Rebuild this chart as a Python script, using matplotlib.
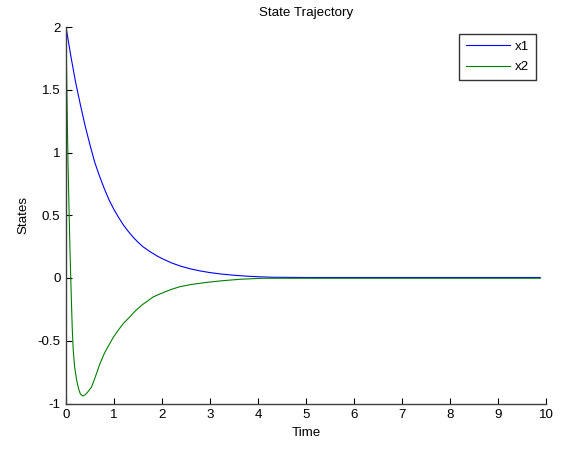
import matplotlib
matplotlib.use("Agg")
import matplotlib.pyplot as plt

plt.rcParams['font.family'] = ['Liberation Sans', 'DejaVu Sans']

# Data
t_x1 = [0.0, 0.1, 0.2, 0.3, 0.4, 0.5, 0.6, 0.7, 0.8, 0.9, 1.0, 1.1, 1.2, 1.3,
        1.4, 1.5, 1.6, 1.75, 1.9, 2.0, 2.2, 2.4, 2.6, 2.8, 3.0, 3.25, 3.5, 3.75,
        4.0, 4.3, 5.0, 6.0, 7.0, 8.0, 9.0, 9.88]
x1 = [2.0, 1.77, 1.56, 1.38, 1.21, 1.06, 0.92, 0.81, 0.71, 0.62, 0.545, 0.48,
      0.42, 0.37, 0.325, 0.285, 0.25, 0.21, 0.175, 0.155, 0.12, 0.093, 0.072,
      0.056, 0.043, 0.031, 0.022, 0.015, 0.01, 0.006, 0.004, 0.004, 0.004,
      0.004, 0.004, 0.004]

t_x2 = [0.0, 0.02, 0.04, 0.06, 0.083, 0.11, 0.13, 0.15, 0.18, 0.22, 0.26, 0.3,
        0.35, 0.4, 0.45, 0.53, 0.6, 0.71, 0.8, 0.9, 0.99, 1.1, 1.2, 1.33, 1.45,
        1.6, 1.82, 2.0, 2.2, 2.375, 2.6, 2.93, 3.25, 3.63, 4.1, 5.0, 6.0, 7.0,
        8.0, 9.0, 9.88]
x2 = [2.0, 1.45, 0.95, 0.6, 0.22, -0.15, -0.4, -0.57, -0.71, -0.81, -0.88,
      -0.925, -0.94, -0.93, -0.91, -0.87, -0.8, -0.68, -0.6, -0.53, -0.47,
      -0.41, -0.36, -0.31, -0.26, -0.21, -0.15, -0.12, -0.09, -0.069, -0.052,
      -0.035, -0.022, -0.01, -0.002, -0.002, -0.002, -0.002, -0.002, -0.002,
      -0.002]

xticks = list(range(0, 11))
yticks = [-1, -0.5, 0, 0.5, 1, 1.5, 2]
ytick_labels = ['-1', '-0.5', '0', '0.5', '1', '1.5', '2']

FS = 9.6

fig = plt.figure(figsize=(5.71, 4.5), dpi=100)
ax = fig.add_axes([66/571, 1-403.5/450, 480/571, (403.5-27)/450])

ax.plot(t_x1, x1, color=(0, 0, 1), lw=0.8, label='x1')
ax.plot(t_x2, x2, color=(0, 0.5, 0), lw=0.8, label='x2')

ax.set_xlim(0, 10)
ax.set_ylim(-1, 2)
ax.set_xticks(xticks)
ax.set_xticklabels([str(v) for v in xticks])
ax.set_yticks(yticks)
ax.set_yticklabels(ytick_labels)
ax.tick_params(direction='in', length=4, width=0.8, labelsize=FS, colors='black', pad=4)

for s in ['top', 'right']:
    ax.spines[s].set_visible(False)
for s in ['left', 'bottom']:
    ax.spines[s].set_color('#404040')
    ax.spines[s].set_linewidth(1.0)

ax.set_title('State Trajectory', fontsize=FS, pad=8)
ax.set_xlabel('Time', fontsize=FS, labelpad=4)
ax.set_ylabel('States', fontsize=FS, labelpad=6)

leg = ax.legend(loc='upper right', fontsize=FS, frameon=True, fancybox=False,
                handlelength=3.3, borderpad=0.5, labelspacing=0.6, handletextpad=0.4,
                borderaxespad=0)
leg.get_frame().set_edgecolor('black')
leg.get_frame().set_linewidth(1.0)
leg.set_bbox_to_anchor(((536 - 66) / 480, 1.0 - (34 - 27) / 376.5), transform=ax.transAxes)

fig.savefig('out.png', dpi=100)
